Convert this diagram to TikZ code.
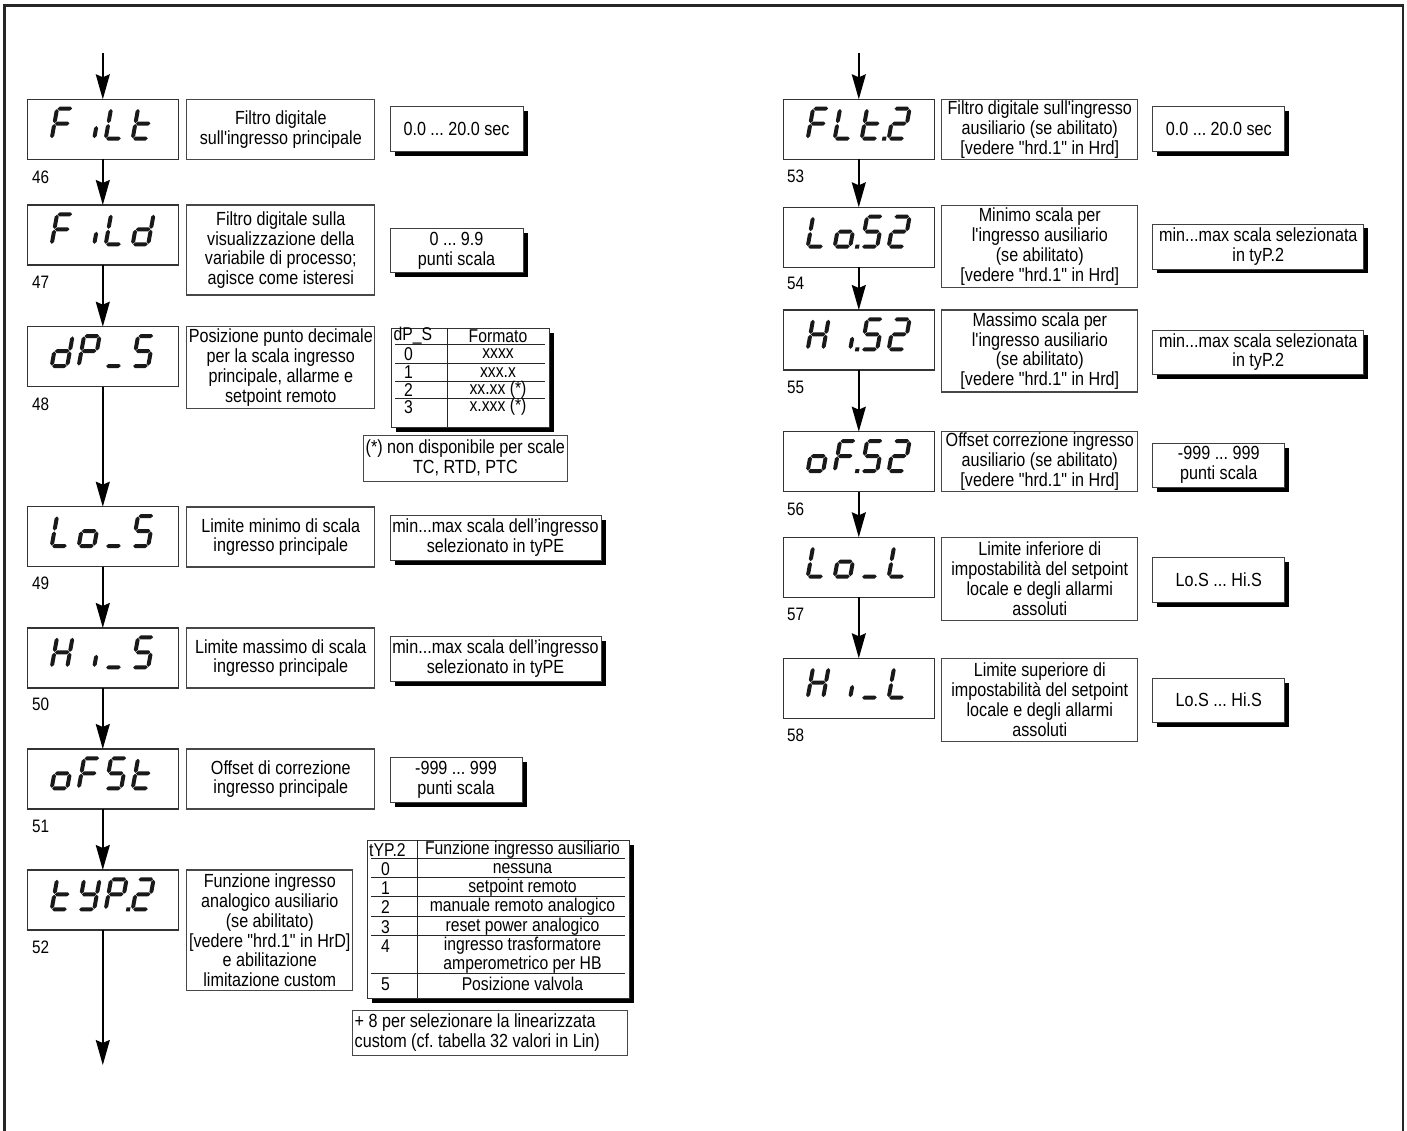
\documentclass[tikz,border=0pt]{standalone}
\usepackage{fontspec}
\setmainfont{Liberation Sans}[FakeStretch=0.85,Ligatures=TeXOff]
\usetikzlibrary{arrows.meta,shadows,backgrounds}
\newcommand{\descfont}{\fontsize{19}{19.8}\selectfont\frenchspacing}
\newcommand{\tabfont}{\fontsize{18.5}{19}\selectfont\frenchspacing}
\newcommand{\lblfont}{\fontsize{18}{19}\selectfont}
\newcommand{\sgt}{2.0}
\newcommand{\sgg}{0.45}
\newcommand{\hsg}[3]{\fill (#1+\sgg,#3) -- (#1+\sgg+\sgt,#3+\sgt) -- (#2-\sgg-\sgt,#3+\sgt) -- (#2-\sgg,#3) -- (#2-\sgg-\sgt,#3-\sgt) -- (#1+\sgg+\sgt,#3-\sgt) -- cycle;}
\newcommand{\vsg}[3]{\fill (#1,#2+\sgg) -- (#1+\sgt,#2+\sgg+\sgt) -- (#1+\sgt,#3-\sgg-\sgt) -- (#1,#3-\sgg) -- (#1-\sgt,#3-\sgg-\sgt) -- (#1-\sgt,#2+\sgg+\sgt) -- cycle;}
\newcommand{\SegA}{\hsg{0}{15.5}{30}}
\newcommand{\SegB}{\vsg{15.5}{15}{30}}
\newcommand{\SegC}{\vsg{15.5}{0}{15}}
\newcommand{\SegD}{\hsg{0}{15.5}{0}}
\newcommand{\SegE}{\vsg{0}{0}{15}}
\newcommand{\SegF}{\vsg{0}{15}{30}}
\newcommand{\SegG}{\hsg{0}{15.5}{15}}
\newcommand{\SegI}{\vsg{15.5}{0}{13}}
\newcommand{\SegP}{\fill (20.5,-2) rectangle (24.5,2);}
\newcommand{\gF}{\SegA\SegE\SegF\SegG}
\newcommand{\gL}{\SegD\SegE\SegF}
\newcommand{\gT}{\SegD\SegE\SegF\SegG}
\newcommand{\gI}{\SegI}
\newcommand{\gD}{\SegB\SegC\SegD\SegE\SegG}
\newcommand{\gP}{\SegA\SegB\SegE\SegF\SegG}
\newcommand{\gU}{\SegD}
\newcommand{\gS}{\SegA\SegC\SegD\SegF\SegG}
\newcommand{\gO}{\SegC\SegD\SegE\SegG}
\newcommand{\gH}{\SegB\SegC\SegE\SegF\SegG}
\newcommand{\gY}{\SegB\SegC\SegD\SegF\SegG}
\newcommand{\gTwo}{\SegA\SegB\SegD\SegE\SegG}
\newcommand{\lcd}[5]{%
  \begin{scope}[shift={(#1.north west)},x=1pt,y=1pt,fill=black!90]
    \begin{scope}[shift={(24.4,-39.3)},xslant=0.18]#2\end{scope}
    \begin{scope}[shift={(51.4,-39.3)},xslant=0.18]#3\end{scope}
    \begin{scope}[shift={(78.4,-39.3)},xslant=0.18]#4\end{scope}
    \begin{scope}[shift={(105.4,-39.3)},xslant=0.18]#5\end{scope}
  \end{scope}}
\begin{document}
\begin{tikzpicture}[x=1pt,y=-1pt,
  disp/.style={draw=black!80,line width=1.3pt,fill=white,minimum width=151pt,minimum height=60pt,anchor=north west,inner sep=0pt,outer sep=0pt},
  desc/.style={draw=black!72,line width=1.1pt,fill=white,anchor=north west,align=center,inner sep=1pt,outer sep=0pt,font=\descfont},
  val/.style={draw=black!75,line width=0.8pt,fill=white,anchor=north west,align=center,inner sep=1pt,outer sep=0pt,font=\descfont,drop shadow={shadow xshift=4.5pt,shadow yshift=-4.5pt,fill=black,opacity=1}},
  tabframe/.style={draw=black!80,line width=1pt,fill=white,anchor=north west,inner sep=0pt,outer sep=0pt,drop shadow={shadow xshift=4.5pt,shadow yshift=-4.5pt,fill=black,opacity=1}},
  note/.style={draw=black!72,line width=0.9pt,fill=white,inner sep=2pt,outer sep=0pt,font=\descfont},
  tabline/.style={draw=black!85,line width=0.9pt},
  ttxt/.style={font=\tabfont,inner sep=0pt},
  wedge/.style={fill=black!30},
  arr/.style={line width=1.8pt,-{Stealth[length=25pt,width=14pt,inset=3pt]}},
  lbl/.style={anchor=west,font=\lblfont,inner sep=0pt},
  frame/.style={line width=2.4pt,draw=black!85}]
\useasboundingbox (0,0) rectangle (1407,1131);
\fill[white] (0,0) rectangle (1407,1131);
\draw[frame] (4.3,1140) -- (4.3,5.5) -- (1402.7,5.5) -- (1402.7,1140);

% ---------------- left column: displays
\node[disp] (fiLt) at (27.3,99.3) {};
\node[disp] (fiLd) at (27.3,205) {};
\node[disp] (dPS) at (27.3,326.7) {};
\node[disp] (loS) at (27.3,506.7) {};
\node[disp] (hiS) at (27.3,628) {};
\node[disp] (ofst) at (27.3,749) {};
\node[disp] (typ2) at (27.3,870) {};
\lcd{fiLt}{\gF}{\gI}{\gL}{\gT}
\lcd{fiLd}{\gF}{\gI}{\gL}{\gD}
\lcd{dPS}{\gD}{\gP}{\gU}{\gS}
\lcd{loS}{\gL}{\gO}{\gU}{\gS}
\lcd{hiS}{\gH}{\gI}{\gU}{\gS}
\lcd{ofst}{\gO}{\gF}{\gS}{\gT}
\lcd{typ2}{\gT}{\gY}{\gP\SegP}{\gTwo}

\node[lbl] (n46) at (32,177) {46};
\node[lbl] (n47) at (32,282) {47};
\node[lbl] (n48) at (32,404) {48};
\node[lbl] (n49) at (32,583) {49};
\node[lbl] (n50) at (32,704) {50};
\node[lbl] (n51) at (32,826) {51};
\node[lbl] (n52) at (32,947) {52};

\coordinate (topL) at ([yshift=46pt]fiLt.north);
\coordinate (botL) at ([yshift=-135pt]typ2.south);
\draw[arr] (topL) -- (fiLt.north);
\draw[arr] (fiLt.south) -- (fiLd.north);
\draw[arr] (fiLd.south) -- (dPS.north);
\draw[arr] (dPS.south) -- (loS.north);
\draw[arr] (loS.south) -- (hiS.north);
\draw[arr] (hiS.south) -- (ofst.north);
\draw[arr] (ofst.south) -- (typ2.north);
\draw[arr] (typ2.south) -- (botL);

% descriptions left
\node[desc,minimum width=188pt,minimum height=60pt] (d46) at (186.8,99.3) {Filtro digitale\\sull'ingresso principale};
\node[desc,minimum width=188pt,minimum height=90pt] (d47) at (186.8,205) {Filtro digitale sulla\\visualizzazione della\\variabile di processo;\\agisce come isteresi};
\node[desc,minimum width=188pt,minimum height=81.6pt] (d48) at (186.8,326.7) {Posizione punto decimale\\per la scala ingresso\\principale, allarme e\\setpoint remoto};
\node[desc,minimum width=188pt,minimum height=60pt] (d49) at (186.8,507) {Limite minimo di scala\\ingresso principale};
\node[desc,minimum width=188pt,minimum height=60pt] (d50) at (186.8,628) {Limite massimo di scala\\ingresso principale};
\node[desc,minimum width=188pt,minimum height=60pt] (d51) at (186.8,749) {Offset di correzione\\ingresso principale};
\node[desc,minimum width=166pt,minimum height=120.7pt] (d52) at (186.8,870) {Funzione ingresso\\analogico ausiliario\\(se abilitato)\\{[vedere "hrd.1" in HrD]}\\e abilitazione\\limitazione custom};

% values left
\node[val,minimum width=133pt,minimum height=45pt] (v46) at (390,106.7) {0.0 ... 20.0 sec};
\node[val,minimum width=133pt,minimum height=44pt] (v47) at (390,228.5) {0 ... 9.9\\punti scala};
\node[val,minimum width=211pt,minimum height=45pt] (v49) at (390,515) {min...max scala dell’ingresso\\selezionato in tyPE};
\node[val,minimum width=211pt,minimum height=45pt] (v50) at (390,636) {min...max scala dell’ingresso\\selezionato in tyPE};
\node[val,minimum width=132pt,minimum height=45pt] (v51) at (390,757) {-999 ... 999\\punti scala};

% table dP_S
\node[tabframe,minimum width=158pt,minimum height=99pt] (tabA) at (391,328) {};
\draw[tabline] (447,328) -- (447,427);
\foreach \yy in {344.7,363.3,381.7,398.3} \draw[tabline] (395,\yy) -- (545,\yy);
\node[ttxt,anchor=west] (tAh1) at (393.5,336) {dP\_S};
\node[ttxt] (tAh2) at (498,336) {Formato};
\foreach \v/\f/\yy [count=\k] in {0/xxxx/354,1/xxx.x/372.5,2/xx.xx (*)/390,3/x.xxx (*)/407}{
  \node[ttxt,anchor=west] (tAa\k) at (404,\yy) {\v};
  \node[ttxt] (tAb\k) at (498,\yy) {\f};}
\node[note,anchor=north east,minimum height=46pt,minimum width=202pt,align=center] (noteA) at (567,435) {(*) non disponibile per scale\\TC, RTD, PTC};

% table tYP.2
\node[tabframe,minimum width=262pt,minimum height=158pt] (tabB) at (367,840) {};
\draw[tabline] (417,840) -- (417,998);
\foreach \yy in {858,877,896.7,916,935,973.3} \draw[tabline] (371,\yy) -- (625,\yy);
\node[ttxt,anchor=west] (tBh1) at (369,850) {tYP.2};
\node[ttxt] (tBh2) at (522.5,850) {Funzione ingresso ausiliario};
\foreach \v/\f/\yy [count=\k] in {0/nessuna/869,1/setpoint remoto/887.7,2/manuale remoto analogico/906.7,3/reset power analogico/926.7,4/ingresso trasformatore/945.7,{}/amperometrico per HB/964.3,5/Posizione valvola/984}{
  \node[ttxt,anchor=west] (tBa\k) at (381,\yy) {\v};
  \node[ttxt] (tBb\k) at (522.5,\yy) {\f};}
\node[note,anchor=north west,minimum height=45pt,text width=271pt,align=flush left] (noteB) at (352.7,1010) {+ 8 per selezionare la linearizzata\\custom (cf. tabella 32 valori in Lin)};

% ---------------- right column: displays
\node[disp] (flt2) at (783.3,99.3) {};
\node[disp] (los2) at (783.3,207.3) {};
\node[disp] (his2) at (783.3,310) {};
\node[disp] (ofs2) at (783.3,431.7) {};
\node[disp] (lol) at (783.3,537.3) {};
\node[disp] (hil) at (783.3,658.3) {};
\lcd{flt2}{\gF}{\gL}{\gT\SegP}{\gTwo}
\lcd{los2}{\gL}{\gO\SegP}{\gS}{\gTwo}
\lcd{his2}{\gH}{\gI\SegP}{\gS}{\gTwo}
\lcd{ofs2}{\gO}{\gF\SegP}{\gS}{\gTwo}
\lcd{lol}{\gL}{\gO}{\gU}{\gL}
\lcd{hil}{\gH}{\gI}{\gU}{\gL}

\node[lbl] (n53) at (787,176) {53};
\node[lbl] (n54) at (787,283) {54};
\node[lbl] (n55) at (787,387) {55};
\node[lbl] (n56) at (787,509) {56};
\node[lbl] (n57) at (787,614) {57};
\node[lbl] (n58) at (787,735) {58};

\coordinate (topR) at ([yshift=46pt]flt2.north);
\draw[arr] (topR) -- (flt2.north);
\draw[arr] (flt2.south) -- (los2.north);
\draw[arr] (los2.south) -- (his2.north);
\draw[arr] (his2.south) -- (ofs2.north);
\draw[arr] (ofs2.south) -- (lol.north);
\draw[arr] (lol.south) -- (hil.north);

% descriptions right
\node[desc,minimum width=196pt,minimum height=60pt] (d53) at (941.8,99.3) {Filtro digitale sull'ingresso\\ausiliario (se abilitato)\\{[vedere "hrd.1" in Hrd]}};
\node[desc,minimum width=196pt,minimum height=82pt] (d54) at (941.8,205.5) {Minimo scala per\\l'ingresso ausiliario\\(se abilitato)\\{[vedere "hrd.1" in Hrd]}};
\node[desc,minimum width=196pt,minimum height=82pt] (d55) at (941.8,310) {Massimo scala per\\l'ingresso ausiliario\\(se abilitato)\\{[vedere "hrd.1" in Hrd]}};
\node[desc,minimum width=196pt,minimum height=60pt] (d56) at (941.8,431.7) {Offset correzione ingresso\\ausiliario (se abilitato)\\{[vedere "hrd.1" in Hrd]}};
\node[desc,minimum width=196pt,minimum height=83pt] (d57) at (941.8,537.3) {Limite inferiore di\\impostabilità del setpoint\\locale e degli allarmi\\assoluti};
\node[desc,minimum width=196pt,minimum height=83pt] (d58) at (941.8,658.3) {Limite superiore di\\impostabilità del setpoint\\locale e degli allarmi\\assoluti};

% values right
\node[val,minimum width=132pt,minimum height=45pt] (v53) at (1152.8,106.7) {0.0 ... 20.0 sec};
\node[val,minimum width=211pt,minimum height=45pt] (v54) at (1152.8,224) {min...max scala selezionata\\in tyP.2};
\node[val,minimum width=211pt,minimum height=44pt] (v55) at (1152.8,330) {min...max scala selezionata\\in tyP.2};
\node[val,minimum width=132pt,minimum height=44pt] (v56) at (1152.8,443) {-999 ... 999\\punti scala};
\node[val,minimum width=132pt,minimum height=45pt] (v57) at (1152.8,557) {Lo.S ... Hi.S};
\node[val,minimum width=132pt,minimum height=44pt] (v58) at (1152.8,678) {Lo.S ... Hi.S};

% wedges
\begin{scope}[on background layer]
\foreach \d/\v in {d46/v46,d47/v47,d48/tabA,d49/v49,d50/v50,d51/v51,d52/tabB,d53/v53,d54/v54,d55/v55,d56/v56,d57/v57,d58/v58}
  \fill[wedge] (\d.north east) -- (\v.north west) -- (\v.south west) -- (\d.south east) -- cycle;
\end{scope}
\end{tikzpicture}
\end{document}
